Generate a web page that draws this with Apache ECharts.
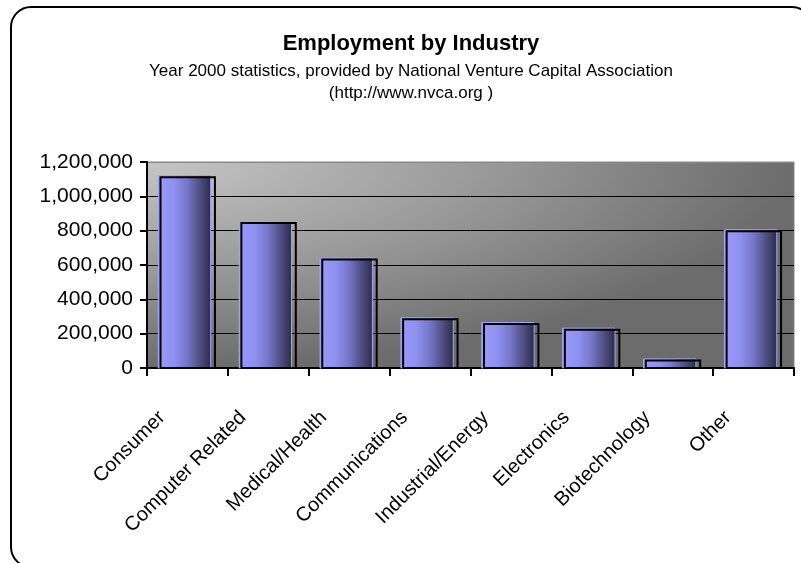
<!DOCTYPE html>
<html>
<head>
<meta charset="utf-8">
<script src="https://cdn.jsdelivr.net/npm/echarts@6/dist/echarts.min.js"></script>
<style>
html,body{margin:0;padding:0;background:#fff;}
#chart{width:801px;height:563px;}
</style>
</head>
<body>
<div id="chart"></div>
<script>
const categories = ['Consumer', 'Computer Related', 'Medical/Health', 'Communications', 'Industrial/Energy', 'Electronics', 'Biotechnology', 'Other'];
const employment = [1120000, 853000, 641000, 292000, 265000, 232000, 53000, 805000];
const yTicks = [0, 200000, 400000, 600000, 800000, 1000000, 1200000];

const GRID = { left: 147, top: 162, right: 7, bottom: 195 };
const W = 801, H = 563;
const gw = W - GRID.left - GRID.right;
const gh = H - GRID.top - GRID.bottom;
const FONT = "'Liberation Sans', Arial, sans-serif";

const chart = echarts.init(document.getElementById('chart'), null, { renderer: 'canvas' });

const faceGradient = new echarts.graphic.LinearGradient(0, 0, 1, 0, [
  { offset: 0, color: '#9a9aff' },
  { offset: 0.3, color: '#9090f0' },
  { offset: 0.55, color: '#7676c8' },
  { offset: 0.75, color: '#55558c' },
  { offset: 0.9, color: '#3c3c64' },
  { offset: 1, color: '#2a2a44' }
]);

chart.setOption({
  animation: false,
  backgroundColor: '#fff',
  title: {
    text: 'Employment by Industry',
    subtext: 'Year 2000 statistics, provided by National Venture Capital Association\n(http://www.nvca.org )',
    left: 411,
    textAlign: 'center',
    top: 33,
    padding: 0,
    itemGap: 5,
    textStyle: { fontFamily: FONT, fontSize: 22, fontWeight: 'bold', color: '#000' },
    subtextStyle: { fontFamily: FONT, fontSize: 17, color: '#000', lineHeight: 22 }
  },
  graphic: [
    {
      type: 'rect',
      z: -10,
      silent: true,
      x: GRID.left,
      y: GRID.top,
      scaleY: gh / gw,
      shape: { x: 0, y: 0, width: gw, height: gw },
      style: {
        fill: new echarts.graphic.RadialGradient(0, 0, 1, [
          { offset: 0, color: '#c6c6c6' },
          { offset: 0.55, color: '#979797' },
          { offset: 1, color: '#6c6c6c' }
        ])
      }
    },
    {
      type: 'rect',
      z: 100,
      silent: true,
      shape: { x: 11, y: 7, width: 801, height: 560, r: 20 },
      style: { fill: 'none', stroke: '#000', lineWidth: 2 }
    }
  ],
  grid: {
    left: GRID.left, top: GRID.top, right: GRID.right, bottom: GRID.bottom,
    show: true, backgroundColor: 'transparent', borderColor: '#888', borderWidth: 1
  },
  xAxis: {
    type: 'category',
    data: categories,
    boundaryGap: true,
    axisLine: { show: true, lineStyle: { color: '#000', width: 2 } },
    axisTick: { show: true, length: 8, lineStyle: { color: '#000', width: 2 } },
    axisLabel: {
      rotate: 45, interval: 0, margin: 21, padding: [0, 36, 0, 0],
      fontFamily: FONT, fontSize: 20, color: '#000'
    },
    splitLine: { show: false }
  },
  yAxis: {
    type: 'value',
    min: yTicks[0],
    max: yTicks[yTicks.length - 1],
    interval: yTicks[1] - yTicks[0],
    axisLine: { show: true, lineStyle: { color: '#000', width: 2 } },
    axisTick: { show: true, length: 7, lineStyle: { color: '#000', width: 2 } },
    axisLabel: {
      margin: 14, fontFamily: FONT, fontSize: 21, color: '#000',
      formatter: v => v.toLocaleString('en-US')
    },
    splitLine: {
      show: true,
      lineStyle: { color: ['#000', '#000', '#000', '#000', '#000', '#000', '#888'], width: 1 }
    }
  },
  series: [{
    type: 'custom',
    data: employment.map((v, i) => [i, v]),
    encode: { x: 0, y: 1 },
    renderItem: function (params, api) {
      const idx = api.value(0);
      const v = api.value(1);
      const top = api.coord([idx, v]);
      const base = api.coord([idx, 0]);
      const band = api.size([1, 0])[0];
      const cx = top[0];
      const fl = cx - band * 0.36, fr = cx + band * 0.287;
      const ol = cx - band * 0.333, orr = cx + band * 0.34;
      const h = base[1] - top[1];
      return {
        type: 'group',
        children: [
          {
            type: 'rect',
            shape: { x: fl, y: top[1], width: fr - fl, height: h },
            style: { fill: faceGradient, stroke: '#a4a4ff', lineWidth: 1 }
          },
          {
            type: 'rect',
            shape: { x: ol, y: top[1] + 1.5, width: orr - ol, height: h - 1.5 },
            style: { fill: 'none', stroke: '#000', lineWidth: 2 }
          }
        ]
      };
    }
  }]
});
</script>
</body>
</html>
